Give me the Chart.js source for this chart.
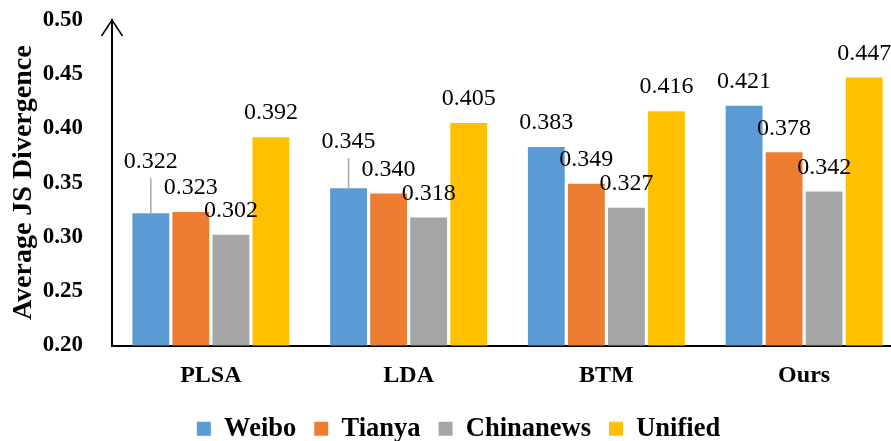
<!DOCTYPE html>
<html>
<head>
<meta charset="utf-8">
<script src="https://cdn.jsdelivr.net/npm/chart.js@4.4.1/dist/chart.umd.min.js"></script>
<style>
  html, body { margin: 0; background: #fff; overflow: hidden; }
</style>
</head>
<body>
<!-- a bit wider than the window: the plot runs off the right edge like the original -->
<canvas id="myChart" width="903" height="441"></canvas>
<script>
const categories = ['PLSA', 'LDA', 'BTM', 'Ours'];
const seriesNames = ['Weibo', 'Tianya', 'Chinanews', 'Unified'];
const weibo = [0.322, 0.345, 0.383, 0.421];
const tianya = [0.323, 0.340, 0.349, 0.378];
const chinanews = [0.302, 0.318, 0.327, 0.342];
const unified = [0.392, 0.405, 0.416, 0.447];
const yMin = 0.20, yMax = 0.50, yStep = 0.05;

const serif = '"Liberation Serif", "Times New Roman", serif';
const colors = ['#5B9BD5', '#ED7D31', '#A5A5A5', '#FFC000'];
// labels that were dragged up in the original, drawn with a leader line
const lifted = { '0-0': 27, '0-1': 22 };

const extras = {
  id: 'extras',
  afterLayout(chart) {
    const lg = chart.legend;
    lg.left += 7; lg.right += 7;
    lg.top += 11; lg.bottom += 11;
  },
  afterDatasetsDraw(chart) {
    const ctx = chart.ctx;
    const area = chart.chartArea;
    ctx.save();
    ctx.font = '24px ' + serif;
    ctx.textAlign = 'center';
    ctx.textBaseline = 'middle';
    chart.data.datasets.forEach((ds, di) => {
      chart.getDatasetMeta(di).data.forEach((bar, i) => {
        const lift = lifted[di + '-' + i] || 0;
        const y = bar.y - 24 - lift;
        if (lift) {
          ctx.strokeStyle = '#A6A6A6';
          ctx.lineWidth = 1.5;
          ctx.beginPath();
          ctx.moveTo(bar.x, y + 16);
          ctx.lineTo(bar.x, bar.y);
          ctx.stroke();
        }
        ctx.fillStyle = '#000';
        ctx.fillText(ds.data[i].toFixed(3), bar.x, y);
      });
    });
    // arrow head on the y axis
    const x = area.left;
    ctx.strokeStyle = '#000';
    ctx.lineWidth = 1.5;
    ctx.beginPath();
    ctx.moveTo(x - 10.5, area.top + 16);
    ctx.lineTo(x, area.top);
    ctx.lineTo(x + 10.5, area.top + 16);
    ctx.stroke();
    ctx.restore();
  }
};

const ctx = document.getElementById('myChart').getContext('2d');
const myChart = new Chart(ctx, {
  type: 'bar',
  data: {
    labels: categories,
    datasets: [weibo, tianya, chinanews, unified].map((vals, k) => ({
      label: seriesNames[k],
      data: vals,
      backgroundColor: colors[k],
      borderWidth: 0,
      categoryPercentage: 0.81,
      barPercentage: 0.92
    }))
  },
  options: {
    responsive: false,
    animation: false,
    layout: { padding: { top: 0, right: 0, left: 0, bottom: 0 } },
    plugins: {
      tooltip: { enabled: false },
      legend: {
        position: 'bottom',
        labels: {
          boxWidth: 14,
          boxHeight: 14,
          padding: 18,
          color: '#000',
          font: { family: serif, size: 26.5, weight: 'bold' }
        }
      }
    },
    scales: {
      x: {
        afterFit(scale) { scale.height = 41; },
        grid: { display: false, drawTicks: false },
        border: { display: true, color: '#000', width: 2 },
        ticks: { color: '#000', padding: 16, font: { family: serif, size: 24, weight: 'bold' } }
      },
      y: {
        min: yMin,
        max: yMax,
        afterFit(scale) {
          scale.width = 112;
          scale.paddingTop = 20;
        },
        grid: { display: false, drawTicks: false },
        border: { display: true, color: '#000', width: 2 },
        ticks: {
          stepSize: yStep,
          color: '#000',
          padding: 29,
          font: { family: serif, size: 23, weight: 'bold' },
          callback: v => v.toFixed(2)
        },
        title: {
          display: true,
          text: 'Average JS Divergence',
          color: '#000',
          padding: { top: 7, bottom: 0 },
          font: { family: serif, size: 28, weight: 'bold' }
        }
      }
    }
  },
  plugins: [extras]
});
</script>
</body>
</html>
